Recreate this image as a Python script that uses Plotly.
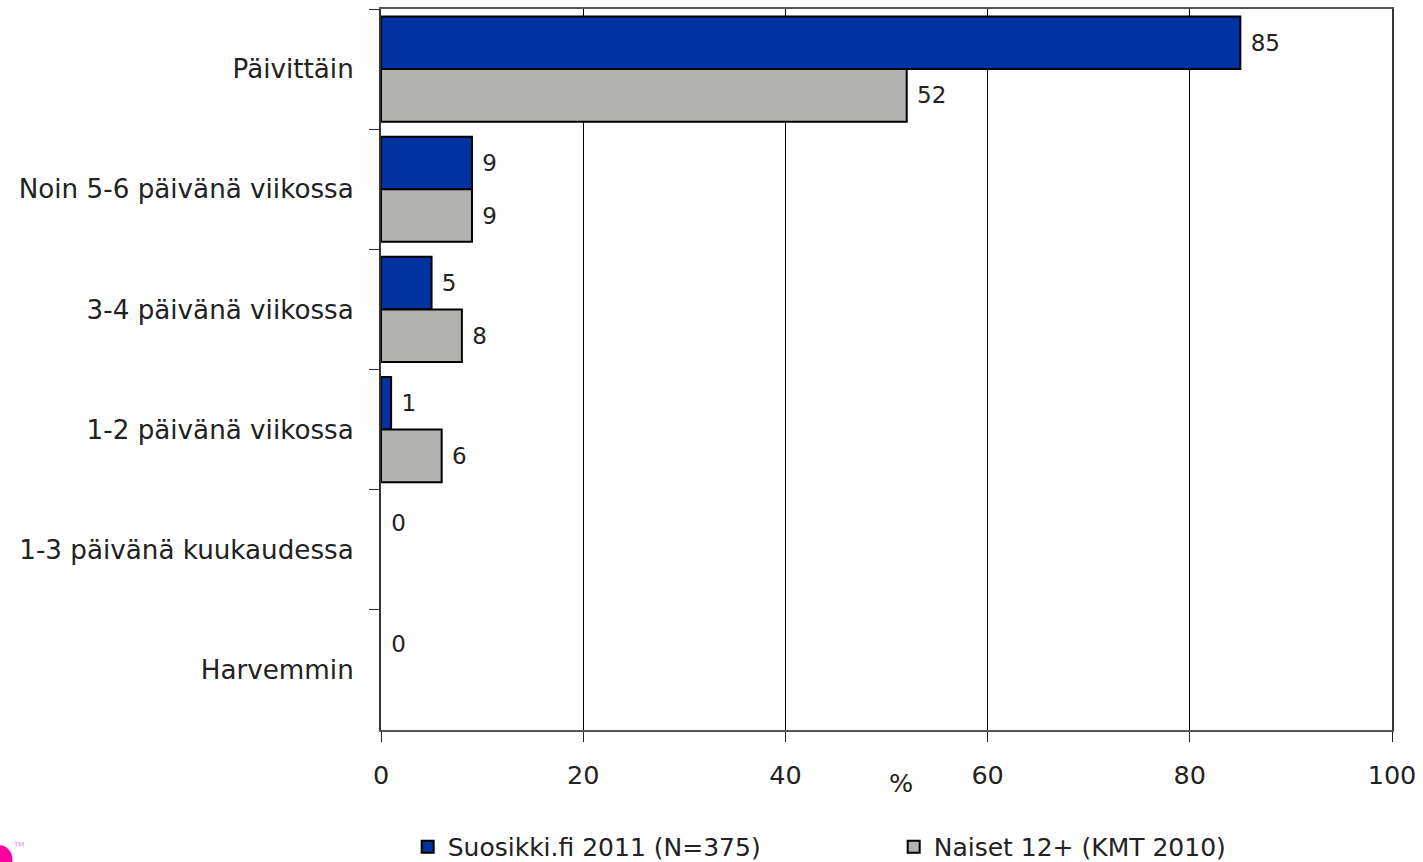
import plotly.graph_objects as go

categories = ["Päivittäin", "Noin 5-6 päivänä viikossa", "3-4 päivänä viikossa",
              "1-2 päivänä viikossa", "1-3 päivänä kuukaudessa", "Harvemmin"]
suosikki = [85, 9, 5, 1, 0, 0]
naiset = [52, 9, 8, 6, None, None]
x_ticks = [0, 20, 40, 60, 80, 100]
FONT = "DejaVu Sans"
INK = "#222222"

def labels(vals):
    return ["" if v is None else f"\u00a0{v}" for v in vals]

fig = go.Figure()
for name, vals, col in [("Suosikki.fi 2011 (N=375)", suosikki, "#0033A0"),
                        ("Naiset 12+ (KMT 2010)", naiset, "#B2B2B0")]:
    fig.add_trace(go.Bar(
        y=categories, x=vals, name=name, orientation="h",
        marker=dict(color=col, line=dict(color="#000000", width=[2 if v else 0 for v in vals])),
        text=labels(vals), textposition="outside", cliponaxis=False,
        textfont=dict(family=FONT, size=23, color=INK), hoverinfo="skip",
    ))

fig.update_layout(
    width=1423, height=862, barmode="group", bargap=0.125, bargroupgap=0,
    margin=dict(l=381, r=28, t=7, b=132),
    paper_bgcolor="white", plot_bgcolor="white",
    font=dict(family=FONT, size=25.5, color=INK),
    xaxis=dict(range=[0, 100], tickvals=x_ticks, showgrid=True, gridcolor="#000000", gridwidth=1,
               zeroline=False, showline=True, linecolor="#555555", linewidth=2, mirror=True,
               ticks="outside", ticklen=10, tickcolor="#222222",
               tickfont=dict(family=FONT, size=25.5, color=INK), ticklabelstandoff=11),
    yaxis=dict(autorange="reversed", tickson="boundaries", showgrid=False, zeroline=False,
               showline=True, linecolor="#333333", linewidth=2, mirror=True,
               ticks="outside", ticklen=10, tickcolor="#333333",
               tickfont=dict(family=FONT, size=26.2, color=INK), ticklabelstandoff=20),
    legend=dict(orientation="h", xref="container", yref="container", x=0.2865, y=0.0175,
                xanchor="left", yanchor="middle", entrywidth=441, entrywidthmode="pixels",
                font=dict(family=FONT, size=25, color=INK), bgcolor="rgba(0,0,0,0)"),
    annotations=[
        dict(text="%", xref="x", yref="paper", x=51.4, y=-0.076, yshift=-15, showarrow=False,
             font=dict(family=FONT, size=25.5, color=INK)),
        dict(text="TM", xref="paper", yref="paper", x=-0.366, y=-0.168, xanchor="left", showarrow=False,
             font=dict(family=FONT, size=7, color="#F090C8")),
    ],
    shapes=[dict(type="circle", xref="paper", yref="paper", x0=-0.39, x1=-0.3645, y0=-0.2, y1=-0.16,
                 fillcolor="#FF00A0", line=dict(width=0), layer="above")],
)
fig.write_html("out.html", config={"displayModeBar": False},
               post_script="document.body.style.margin='0';")
